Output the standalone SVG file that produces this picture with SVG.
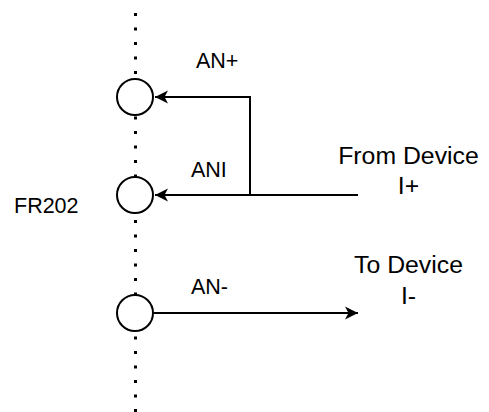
<svg xmlns="http://www.w3.org/2000/svg" width="489" height="412" viewBox="0 0 489 412">
<style>
.dot{stroke:#000;stroke-width:3;stroke-dasharray:3 11.5;fill:none}
.port{fill:#fff;stroke:#000;stroke-width:2}
.wire{stroke:#000;stroke-width:2;fill:none}
.lbl{font-family:"Liberation Sans",Arial,sans-serif;font-size:21.5px;fill:#000}
.dev{font-family:"Liberation Sans",Arial,sans-serif;font-size:24.8px;fill:#000;text-anchor:middle}
</style>
<defs>
<marker id="arr" viewBox="0 0 14 14" refX="13" refY="7" markerWidth="14" markerHeight="14" markerUnits="userSpaceOnUse" orient="auto">
<path d="M13,7 L0,0.5 L3.5,7 L0,13.5 Z" fill="#000"/>
</marker>
</defs>
<rect width="489" height="412" fill="#fff"/>
<g id="bus">
<line class="dot" x1="135.5" y1="13" x2="135.5" y2="78"/>
<line class="dot" x1="135.5" y1="116.5" x2="135.5" y2="177"/>
<line class="dot" x1="135.5" y1="220" x2="135.5" y2="295"/>
<line class="dot" x1="135.5" y1="336.5" x2="135.5" y2="412"/>
</g>
<g id="connectors">
<polyline class="wire" points="250,195 250,97 155,97" marker-end="url(#arr)"/>
<line class="wire" x1="358" y1="195" x2="155" y2="195" marker-end="url(#arr)"/>
<line class="wire" x1="154" y1="313" x2="358" y2="313" marker-end="url(#arr)"/>
</g>
<g id="port-anplus"><circle class="port" cx="135" cy="97" r="18"/></g>
<g id="port-ani"><circle class="port" cx="135" cy="195" r="18"/></g>
<g id="port-anminus"><circle class="port" cx="135" cy="313" r="18"/></g>
<g id="labels">
<text class="lbl" x="196" y="68">AN+</text>
<text class="lbl" x="191" y="177">ANI</text>
<text class="lbl" x="191" y="294">AN-</text>
<text class="lbl" x="14" y="213">FR202</text>
</g>
<g id="from-device">
<text class="dev" x="408.5" y="163.5">From Device</text>
<text class="dev" x="408.5" y="194">I+</text>
</g>
<g id="to-device">
<text class="dev" x="408.5" y="272.5">To Device</text>
<text class="dev" x="408.5" y="304">I-</text>
</g>
</svg>
